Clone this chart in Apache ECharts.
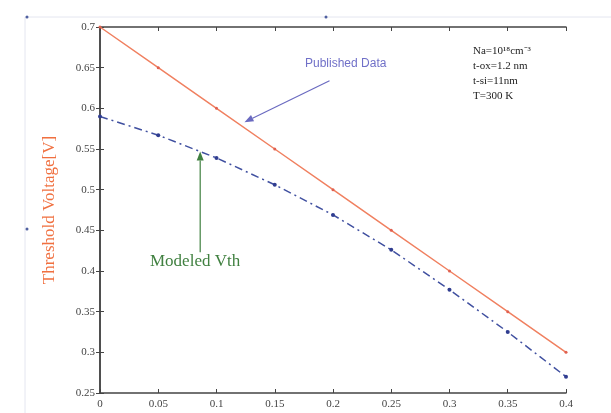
<!DOCTYPE html>
<html><head><meta charset="utf-8">
<script src="https://cdn.jsdelivr.net/npm/echarts@6/dist/echarts.min.js"></script>
<style>html,body{margin:0;padding:0;background:#fff}#c{width:611px;height:413px}</style>
</head><body><div id="c"></div>
<script>
const xValues = [0, 0.05, 0.1, 0.15, 0.2, 0.25, 0.3, 0.35, 0.4];
const publishedData = [0.70, 0.65, 0.60, 0.55, 0.50, 0.45, 0.40, 0.35, 0.30];
const modeledVth = [0.590, 0.567, 0.539, 0.506, 0.469, 0.426, 0.377, 0.325, 0.270];
const paramLines = ['Na=10\u00B9\u2078cm\u207B\u00B3', 't-ox=1.2 nm', 't-si=11nm', 'T=300 K'];
// annotation arrows in data coordinates: [from, to]
const publishedArrow = [[0.197, 0.634], [0.124, 0.583]];
const modeledArrow = [[0.086, 0.423], [0.086, 0.547]];

const chart = echarts.init(document.getElementById('c'));
const serif = 'Liberation Serif';
const axisCommon = {
  axisLine: {show: true, lineStyle: {color: '#444', width: 1.5}},
  axisTick: {show: true, inside: true, length: 4, lineStyle: {color: '#444'}},
  splitLine: {show: false}
};
chart.setOption({
  animation: false,
  grid: {left: 100, right: 45, top: 27, bottom: 20},
  xAxis: [
    Object.assign({type: 'value', min: 0, max: 0.4, interval: 0.05, position: 'bottom',
      axisLabel: {color: '#444', fontFamily: serif, fontSize: 11, margin: 6,
        formatter: v => String(+v.toFixed(2))}}, axisCommon),
    Object.assign({type: 'value', min: 0, max: 0.4, interval: 0.05, position: 'top',
      axisLabel: {show: false}}, axisCommon)
  ],
  yAxis: [
    Object.assign({type: 'value', min: 0.25, max: 0.7, interval: 0.05, position: 'left',
      name: 'Threshold Voltage[V]', nameLocation: 'middle', nameGap: 42,
      nameTextStyle: {color: '#f07040', fontFamily: serif, fontSize: 17},
      axisLabel: {color: '#444', fontFamily: serif, fontSize: 11, margin: 5,
        formatter: v => String(+v.toFixed(2))}}, axisCommon),
    Object.assign({type: 'value', min: 0.25, max: 0.7, interval: 0.05, position: 'right',
      axisLabel: {show: false}}, axisCommon)
  ],
  series: [
    {
      name: 'Published Data', type: 'line',
      data: xValues.map((x, i) => [x, publishedData[i]]),
      lineStyle: {color: '#f08060', width: 1.5},
      itemStyle: {color: '#e06050'},
      symbol: 'circle', symbolSize: 3
    },
    {
      name: 'Modeled Vth', type: 'line',
      data: xValues.map((x, i) => [x, modeledVth[i]]),
      lineStyle: {color: '#4050a0', width: 1.5, type: [8, 4, 2, 4]},
      itemStyle: {color: '#303d90'},
      symbol: 'circle', symbolSize: 4
    }
  ]
});

function arrowGraphic(arrow, color) {
  const p1 = chart.convertToPixel({gridIndex: 0}, arrow[0]);
  const p2 = chart.convertToPixel({gridIndex: 0}, arrow[1]);
  const dx = p2[0] - p1[0], dy = p2[1] - p1[1];
  const len = Math.sqrt(dx * dx + dy * dy);
  const ux = dx / len, uy = dy / len;
  const hl = 9, hw = 3.5;
  const bx = p2[0] - ux * hl, by = p2[1] - uy * hl;
  return [
    {type: 'line', shape: {x1: p1[0], y1: p1[1], x2: bx, y2: by}, style: {stroke: color, lineWidth: 1.2}, silent: true},
    {type: 'polygon', shape: {points: [[p2[0], p2[1]], [bx - uy * hw, by + ux * hw], [bx + uy * hw, by - ux * hw]]},
      style: {fill: color}, silent: true}
  ];
}

chart.setOption({
  graphic: [
    {type: 'line', shape: {x1: 25, y1: 17, x2: 611, y2: 17}, style: {stroke: '#e4e6f0', lineWidth: 1}, silent: true},
    {type: 'line', shape: {x1: 25, y1: 17, x2: 25, y2: 413}, style: {stroke: '#e4e6f0', lineWidth: 1}, silent: true},
    {type: 'circle', shape: {cx: 27, cy: 17, r: 1.5}, style: {fill: '#5060a0'}},
    {type: 'circle', shape: {cx: 326, cy: 17, r: 1.5}, style: {fill: '#5060a0'}},
    {type: 'circle', shape: {cx: 27, cy: 229, r: 1.5}, style: {fill: '#5060a0'}},
    {type: 'text', left: 305, top: 58, style: {text: 'Published Data', fill: '#7070c8', font: '12px "Liberation Sans"'}},
    {type: 'text', left: 150, top: 253, style: {text: 'Modeled Vth', fill: '#408040', font: '17px "Liberation Serif"'}},
    {type: 'text', left: 473, top: 44, style: {text: paramLines.join('\n'), fill: '#222', font: '11px "Liberation Serif"', lineHeight: 15}}
  ].concat(arrowGraphic(publishedArrow, '#6a6ac0'), arrowGraphic(modeledArrow, '#408040'))
});
</script></body></html>
